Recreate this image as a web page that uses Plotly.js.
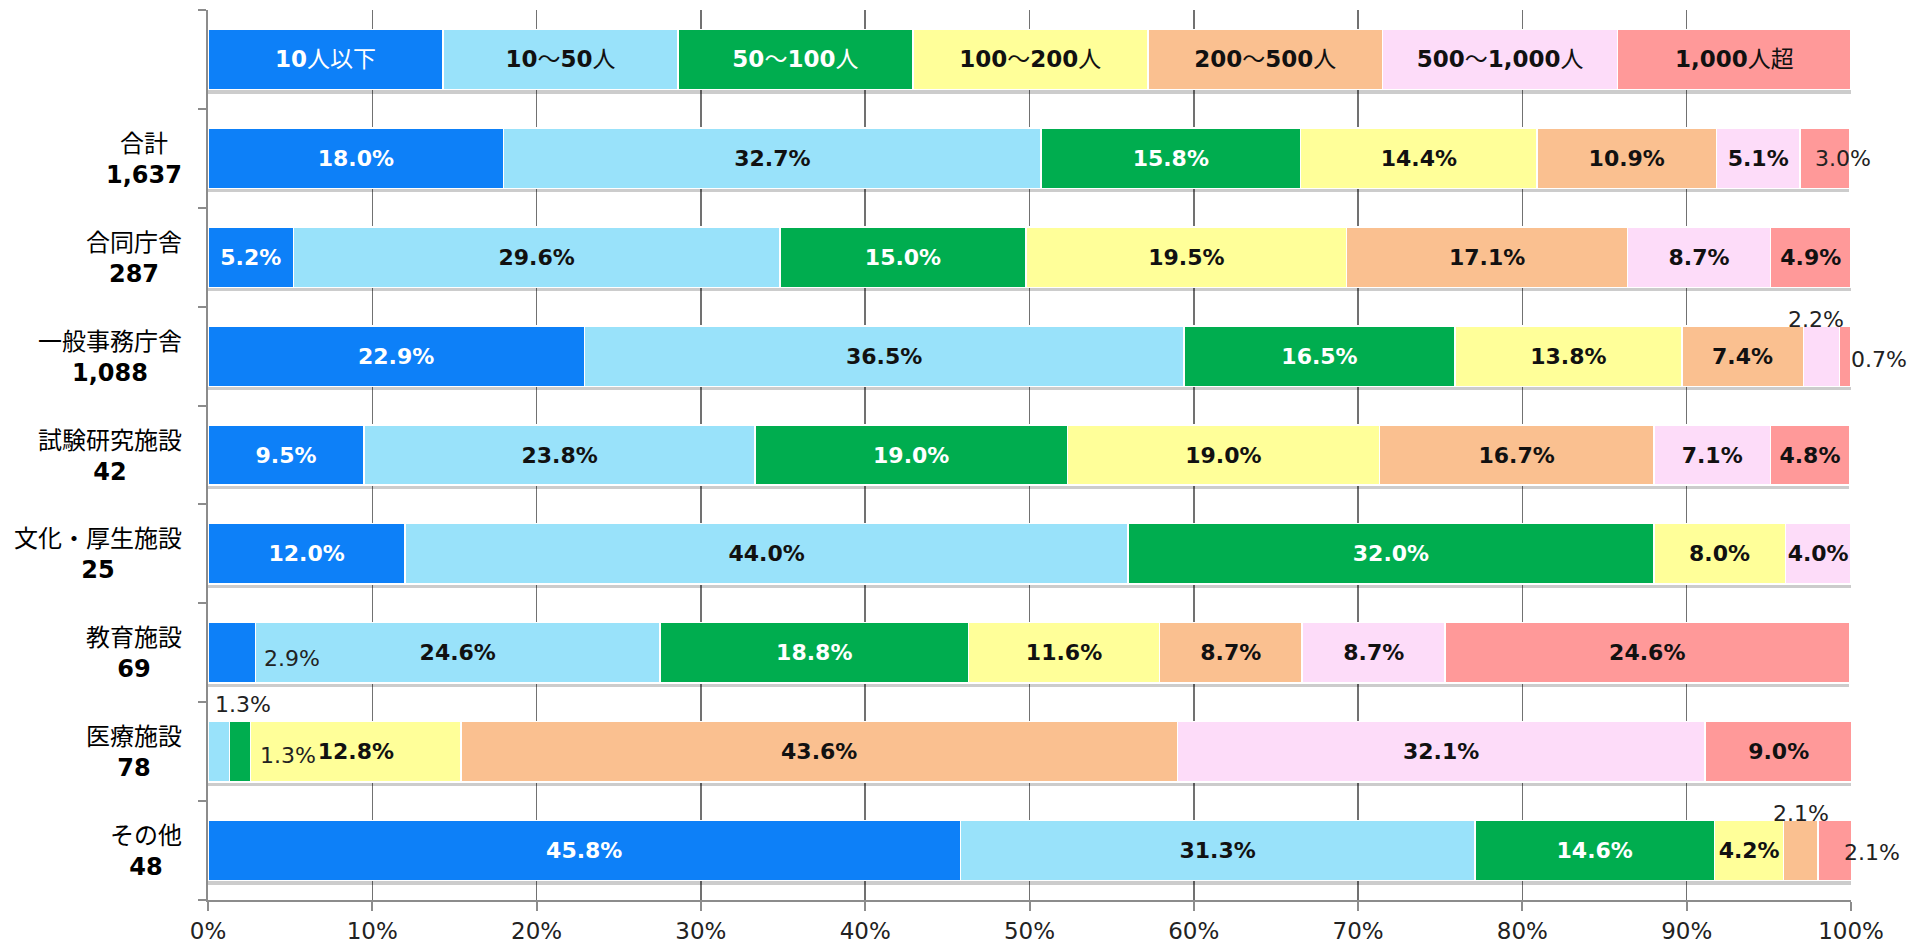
<!DOCTYPE html>
<html><head><meta charset="utf-8">
<script src="https://cdn.plot.ly/plotly-3.0.1.min.js"></script>
<style>html,body{margin:0;padding:0;background:#fff}#chart{width:1907px;height:947px}</style>
</head><body><div id="chart"></div>
<script>
// ---- data ----
const categories = ['合計','合同庁舎','一般事務庁舎','試験研究施設','文化・厚生施設','教育施設','医療施設','その他'];
const counts = ['1,637','287','1,088','42','25','69','78','48'];
const seriesNames = ['10人以下','10～50人','50～100人','100～200人','200～500人','500～1,000人','1,000人超'];
const legendRowShare = [14.3,14.3,14.3,14.3,14.3,14.3,14.2];
const s10   = [18.0, 5.2,22.9, 9.5,12.0, 2.9, 0.0,45.8];
const s50   = [32.7,29.6,36.5,23.8,44.0,24.6, 1.3,31.3];
const s100  = [15.8,15.0,16.5,19.0,32.0,18.8, 1.3,14.6];
const s200  = [14.4,19.5,13.8,19.0, 8.0,11.6,12.8, 4.2];
const s500  = [10.9,17.1, 7.4,16.7, 0.0, 8.7,43.6, 2.1];
const s1000 = [ 5.1, 8.7, 2.2, 7.1, 4.0, 8.7,32.1, 0.0];
const sOver = [ 3.0, 4.9, 0.7, 4.8, 0.0,24.6, 9.0, 2.1];
const seriesValues = [s10,s50,s100,s200,s500,s1000,sOver];

// ---- style ----
const colors = ['#0D80F8','#99E2FA','#00AD4F','#FFFF99','#FAC090','#FDDCF9','#FF9999'];
const textColors = ['#fff','#111','#fff','#111','#111','#111','#111'];
const FONT = '"DejaVu Sans", "Noto Sans CJK JP", sans-serif';
const BARW = 0.61;
// labels drawn outside their segment: [series, category, mode, dx, dy]
const offLabels = [
  [6,0,'start',13,0],
  [5,2,'center',-5,37],
  [6,2,'start',9,-3],
  [0,5,'end',6,-6],
  [1,6,'start',5,47],
  [2,6,'end',7,-4],
  [4,7,'center',0,37],
  [6,7,'start',24,-2]
];
const isOff = (s,c) => offLabels.some(o => o[0]===s && o[1]===c);
const boldDigits = t => t.replace(/([0-9][0-9,]*)/g,'<b>$1</b>');

const nCat = categories.length;
const yPos = categories.map((_,i) => nCat-1-i);
const legendY = nCat;
const allY = [legendY].concat(yPos);

// soft shadow under each bar row
const rowTotals = [legendRowShare.reduce((a,b)=>a+b,0)].concat(
  categories.map((_,c) => seriesValues.reduce((a,v)=>a+v[c],0)));
const shadow = {
  type:'bar', orientation:'h', x:rowTotals, y:allY, xaxis:'x', yaxis:'y',
  width:BARW, offset:-BARW/2-0.04,
  marker:{color:'rgba(0,0,0,0.2)', line:{width:0}}, hoverinfo:'skip'
};

const traces = seriesValues.map((vals,s) => {
  const text = [boldDigits(seriesNames[s])].concat(vals.map((v,c) => (v>0 && !isOff(s,c)) ? '<b>'+v.toFixed(1)+'%</b>' : ''));
  const sizes = [23].concat(vals.map(()=>22));
  return {
    type:'bar', orientation:'h', name:seriesNames[s], xaxis:'x', yaxis:'y2',
    x:[legendRowShare[s]].concat(vals), y:allY, width:BARW,
    marker:{color:colors[s], line:{color:'#fff', width:1.5}},
    text:text, textposition:'inside', insidetextanchor:'middle', constraintext:'none',
    textfont:{family:FONT, size:sizes, color:textColors[s]},
    hoverinfo:'skip'
  };
});

const annotations = offLabels.map(([s,c,mode,dx,dy]) => {
  let start = 0;
  for (let k=0;k<s;k++) start += seriesValues[k][c];
  const v = seriesValues[s][c];
  let x, anchor;
  if (mode==='start') { x = start; anchor='left'; }
  else if (mode==='end') { x = start+v; anchor='left'; }
  else { x = start + v/2; anchor='center'; }
  return {x:x, y:yPos[c], xref:'x', yref:'y2', text:v.toFixed(1)+'%', showarrow:false,
    xanchor:anchor, yanchor:'middle', xshift:dx, yshift:dy,
    font:{family:FONT, size:22, color:'#222'}};
});
// category labels (centered two-line blocks left of the axis)
categories.forEach((c,i) => {
  annotations.push({x:0, xref:'paper', y:yPos[i], yref:'y2', text:c+'<br><b>'+counts[i]+'</b>',
    showarrow:false, xanchor:'right', yanchor:'middle', align:'center', xshift:-24, yshift:-1,
    font:{family:FONT, size:24, color:'#000'}});
});

const boundaryTicks = [];
for (let i=0;i<=nCat+1;i++) boundaryTicks.push(i-0.5);

const layout = {
  width:1907, height:947,
  margin:{l:208, r:56, t:10, b:47},
  barmode:'stack', bargap:0.39, showlegend:false,
  plot_bgcolor:'#fff', paper_bgcolor:'#fff',
  font:{family:FONT, size:22, color:'#000'},
  xaxis:{range:[0,100], tick0:0, dtick:10, ticksuffix:'%', showgrid:true, gridcolor:'#717171', gridwidth:1.5,
    zeroline:false, showline:true, linecolor:'#8c8c8c', linewidth:2, ticks:'outside', ticklen:9, tickwidth:2,
    tickcolor:'#8c8c8c', tickfont:{family:FONT, size:23, color:'#222'}, ticklabelstandoff:0, fixedrange:true},
  yaxis:{range:[-0.5, nCat+0.5], tickmode:'array', tickvals:boundaryTicks, showticklabels:false,
    ticks:'outside', ticklen:8, tickwidth:2, tickcolor:'#8c8c8c', showgrid:false, zeroline:false,
    showline:true, linecolor:'#8c8c8c', linewidth:2, fixedrange:true},
  yaxis2:{overlaying:'y', side:'left', range:[-0.5, nCat+0.5], showticklabels:false, ticks:'',
    showgrid:false, zeroline:false, showline:false, fixedrange:true},
  annotations:annotations
};

Plotly.newPlot('chart', [shadow].concat(traces), layout, {displayModeBar:false, staticPlot:true});
</script></body></html>
